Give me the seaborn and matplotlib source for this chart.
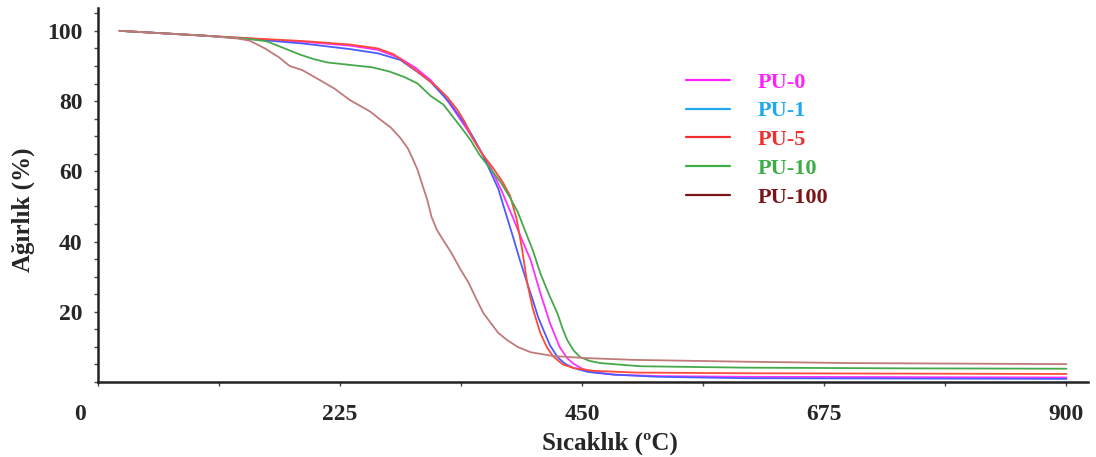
import pandas as pd
import numpy as np
import seaborn as sns
import matplotlib
matplotlib.use("Agg")
import matplotlib.pyplot as plt
import matplotlib.transforms as mtransforms
from matplotlib.lines import Line2D
from matplotlib.ticker import MultipleLocator

# TGA curves: temperature (C) and weight (%)
pu0_t = [20, 60, 100, 140, 190, 234, 260, 280, 295, 309, 320, 330, 340, 349, 357, 365, 375, 386, 394, 402,
         411, 420, 429, 436, 442, 450, 460, 480, 520, 600, 750, 900]
pu0_w = [100, 99.3, 98.6, 97.8, 96.9, 95.8, 94.6, 92.3, 89.5, 86, 82.2, 77.8, 73.3, 69, 65, 61, 54.5, 46.5, 40.5, 34.8,
         25.4, 16.8, 10, 6.8, 5.2, 3.8, 2.8, 2.1, 1.7, 1.5, 1.4, 1.3]

pu1_t = [20, 60, 100, 140, 190, 234, 260, 281, 296, 309, 327, 343, 349, 357, 364, 372, 380, 386, 392, 398,
         404, 409, 414, 420, 427, 434, 442, 455, 480, 520, 600, 750, 900]
pu1_w = [100, 99.3, 98.6, 97.7, 96.4, 94.8, 93.6, 91.7, 88.5, 85.5, 79.5, 72.6, 69.5, 65, 60.4, 55, 47, 41, 34.8, 29,
         23.4, 18.5, 14.8, 10.5, 7.1, 5.2, 4, 2.9, 2.1, 1.5, 1.1, 1.0, 0.9]

pu5_t = [20, 60, 100, 140, 190, 234, 260, 275, 290, 303, 315, 325, 334, 341, 348, 357, 367, 376, 383, 389,
         394, 399, 404, 411, 417, 423, 432, 442, 460, 500, 600, 750, 900]
pu5_w = [100, 99.3, 98.6, 97.9, 97.1, 96.1, 95.0, 93.3, 90, 87, 84, 81, 77.5, 74, 69.5, 65, 61, 57, 53, 46.5,
         38, 28, 21, 14, 10, 7.3, 5, 4, 3.2, 2.7, 2.5, 2.4, 2.3]

pu10_t = [20, 60, 100, 140, 157, 175, 188, 200, 213, 234, 255, 271, 285, 297, 309, 321, 337, 346, 355, 364,
          374, 382, 390, 397, 404, 411, 419, 427, 432, 436, 442, 448, 457, 467, 504, 600, 750, 900]
pu10_w = [100, 99.3, 98.6, 97.7, 97, 94.8, 93.2, 92, 91, 90.3, 89.6, 88.4, 86.8, 85, 81.5, 79, 72.7, 69, 64.5, 61,
          57, 53, 48.5, 43, 37.6, 31, 25, 19.5, 15, 12, 9, 7.1, 6, 5.4, 4.5, 4.1, 3.9, 3.8]

pu100_t = [20, 60, 100, 130, 141, 155, 168, 178, 190, 206, 220, 234, 253, 262, 272, 281, 288, 293, 297, 302,
           306, 310, 315, 320, 328, 337, 344, 352, 358, 365, 372, 380, 390, 402, 423, 455, 500, 600, 700, 900]
pu100_w = [100, 99.3, 98.6, 97.8, 97.2, 95, 92.5, 90, 88.8, 86, 83.5, 80.3, 77, 74.8, 72.5, 69.5, 66.5, 63.2, 60.4, 55.6,
           51.9, 47, 43.3, 40.8, 37, 32, 28.5, 23.4, 19.7, 16.8, 14, 12, 10, 8.5, 7.4, 6.8, 6.3, 5.8, 5.4, 5.1]

samples = ["PU-0", "PU-1", "PU-5", "PU-10", "PU-100"]
line_colors = ["#ff30ff", "#4a5cff", "#ff4a3a", "#45a84a", "#c07a7a"]
legend_colors = ["#ff22ff", "#1ea8f0", "#f03030", "#3cae45", "#7a1418"]

series = [(pu0_t, pu0_w), (pu1_t, pu1_w), (pu5_t, pu5_w), (pu10_t, pu10_w), (pu100_t, pu100_w)]
df = pd.concat([pd.DataFrame({"temp": t, "weight": w, "sample": s}) for s, (t, w) in zip(samples, series)],
               ignore_index=True)

sns.set_style("white")
plt.rcParams["font.family"] = ["Liberation Serif", "DejaVu Serif"]
plt.rcParams["font.weight"] = "bold"

fig = plt.figure(figsize=(10.96, 4.57), dpi=100)
ax = fig.add_axes([0.0894, 0.164, 0.9033, 0.8185])

sns.lineplot(data=df, x="temp", y="weight", hue="sample", hue_order=samples,
             palette=dict(zip(samples, line_colors)), estimator=None, sort=False,
             linewidth=1.3, legend=False, ax=ax)

ax.set_xlim(0, 920)
ax.set_ylim(0, 106.5)
ax.set_xticks([0, 225, 450, 675, 900])
ax.xaxis.set_minor_locator(MultipleLocator(112.5))
ax.set_yticks([20, 40, 60, 80, 100])
ax.yaxis.set_minor_locator(MultipleLocator(5))

for side in ["top", "right"]:
    ax.spines[side].set_visible(False)
for side in ["left", "bottom"]:
    ax.spines[side].set_linewidth(1.8)
    ax.spines[side].set_color("#222222")

ax.tick_params(axis="both", which="both", direction="out", length=3, width=1, color="#444444",
               bottom=True, left=True)
ax.tick_params(axis="x", which="major", labelsize=17, pad=13)
ax.tick_params(axis="y", which="major", labelsize=17, pad=8)
for lbl in ax.get_xticklabels() + ax.get_yticklabels():
    lbl.set_fontweight("bold")

# the "0" label sits a little left of the corner in the original
zero = ax.get_xticklabels()[0]
zero.set_transform(zero.get_transform() + mtransforms.ScaledTranslation(-0.18, 0, fig.dpi_scale_trans))

ax.set_xlabel("Sıcaklık (ºC)", fontsize=18, fontweight="bold")
ax.xaxis.set_label_coords(0.517, -0.132)
ax.set_ylabel("Ağırlık (%)", fontsize=18, fontweight="bold")
ax.yaxis.set_label_coords(-0.064, 0.46)

handles = [Line2D([0], [0], color=c, lw=1.6) for c in legend_colors]
leg = ax.legend(handles, samples, loc="upper left", bbox_to_anchor=(686 / 1096, 1 - 72 / 457),
                bbox_transform=fig.transFigure, frameon=False, borderpad=0, borderaxespad=0,
                handlelength=2.0, handletextpad=1.2, labelspacing=0.37,
                labelcolor=legend_colors, prop={"size": 16, "weight": "bold"})

fig.savefig("out.png", dpi=100)
